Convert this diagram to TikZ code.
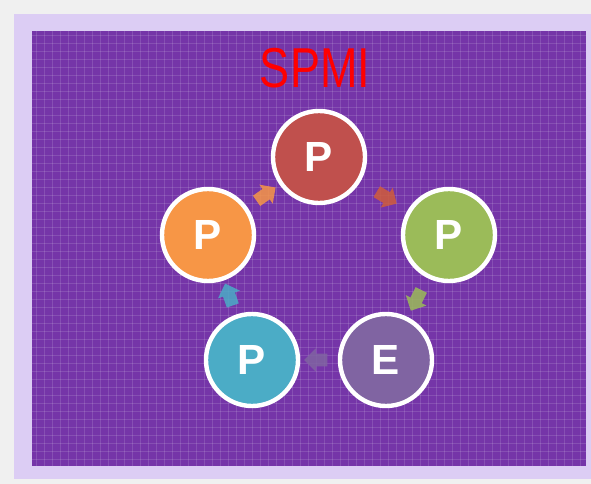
\documentclass[tikz,border=0pt]{standalone}
\usepackage{fontspec}
\setmainfont{Liberation Sans}
\usepackage{tikz}
\usetikzlibrary{positioning, shapes.arrows}

\definecolor{pred}{HTML}{C0504D}
\definecolor{pgreen}{HTML}{9BBB59}
\definecolor{ppurple}{HTML}{8064A2}
\definecolor{pteal}{HTML}{4BACC6}
\definecolor{porange}{HTML}{F79646}
\definecolor{bgback}{HTML}{7535A8}
\definecolor{bgglow}{HTML}{DCCDF4}

\tikzset{
  phase/.style={circle, draw=white, line width=1.1mm, minimum size=2.3cm, inner sep=0pt,
    font=\fontsize{30}{30}\selectfont\bfseries, text=white},
  turn/.style={single arrow, draw=none, minimum height=0.58cm, minimum width=0.58cm,
    single arrow head extend=0.1cm, inner sep=3.2pt, opacity=0.85,
    sloped, allow upside down}
}

\begin{document}
\begin{tikzpicture}[x=0.025cm, y=-0.025cm]
\useasboundingbox (0,0) rectangle (591,484);
\fill[gray!12] (0,0) rectangle (591,484);
\fill[bgglow] (14,14) rectangle (591,479);
\fill[bgback] (32,31) rectangle (586,466);
% grid texture
\foreach \gx in {36,44,...,580} \draw[white, opacity=0.13, line width=0.5pt] (\gx,31) -- (\gx,466);
\foreach \gy in {35,43,...,462} \draw[white, opacity=0.13, line width=0.5pt] (32,\gy) -- (586,\gy);

\node[text=red, font=\fontsize{40}{40}\selectfont, xscale=0.8] (title) at (315,68) {SPMI};

\node[phase, fill=pred] (ptop) at (319,157) {P};
\node[phase, fill=pgreen] (pright) at (449,235) {P};
\node[phase, fill=ppurple] (eval) at (386,360) {E};
\node[phase, fill=pteal] (pbottom) at (252,360) {P};
\node[phase, fill=porange] (pleft) at (208,235) {P};

\path (ptop) -- node[turn, fill=pred!75!orange] (a1) {} (pright);
\path (pright) -- node[turn, fill=pgreen] (a2) {} (eval);
\path (eval) -- node[turn, fill=ppurple] (a3) {} (pbottom);
\path (pbottom) -- node[turn, fill=pteal] (a4) {} (pleft);
\path (pleft) -- node[turn, fill=porange] (a5) {} (ptop);
\end{tikzpicture}
\end{document}
